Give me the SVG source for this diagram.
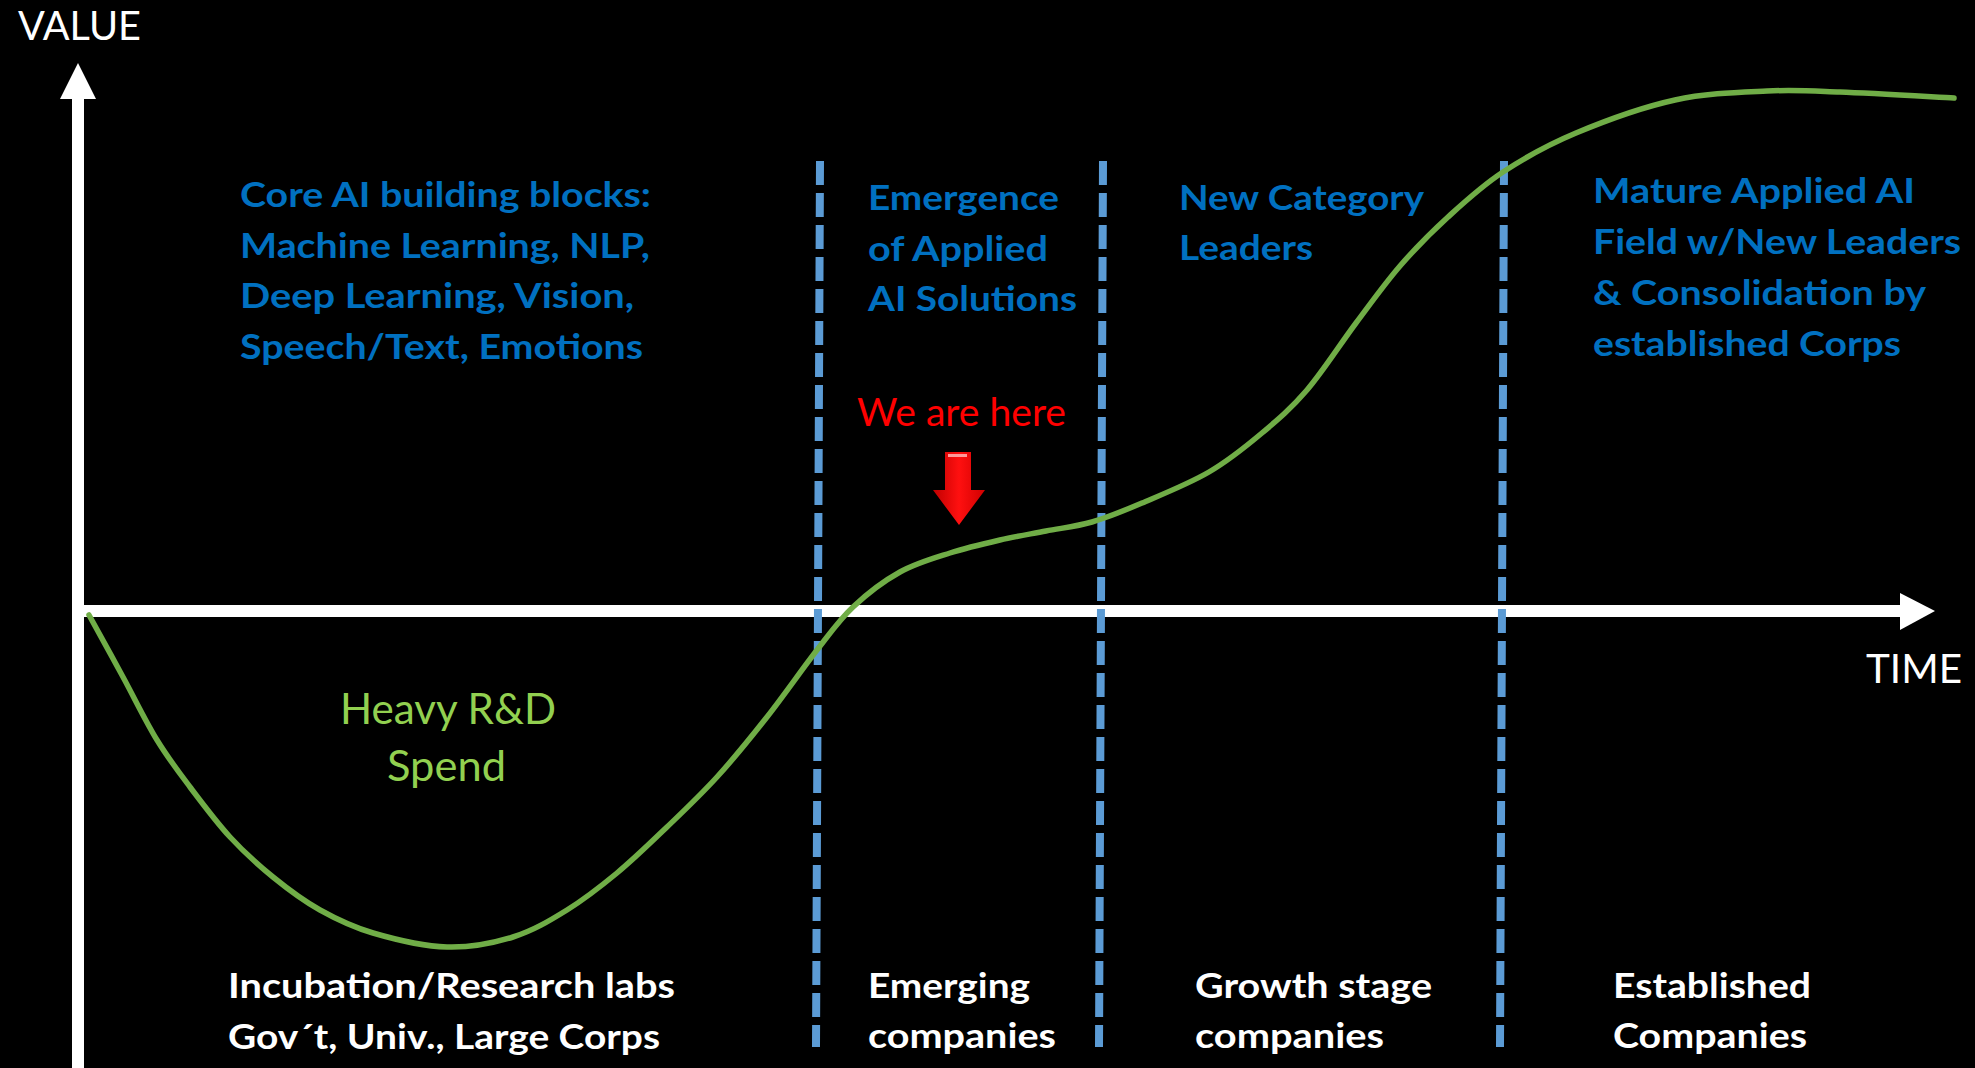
<svg xmlns="http://www.w3.org/2000/svg" width="1975" height="1068" viewBox="0 0 1975 1068">
  <style>
    text { font-family: Lato, "Open Sans", "Liberation Sans", sans-serif; }
    .blue { fill: #0070C0; font-weight: 700; font-size: 35px; }
    .white { fill: #FFFFFF; font-weight: 700; font-size: 35px; }
    .axislabel { fill: #FFFFFF; font-weight: 400; font-size: 40px; }
    .green { fill: #92D050; font-weight: 400; font-size: 43px; }
    .red { fill: #FF0000; font-weight: 400; font-size: 38px; }
    .divider { stroke: #5B9BD5; stroke-width: 8; stroke-dasharray: 24 8; fill: none; }
    .curve { stroke: #70AD47; stroke-width: 5.5; fill: none; stroke-linecap: round; stroke-linejoin: round; }
    .axis { fill: #FFFFFF; }
  </style>
  <defs>
    <linearGradient id="redgrad" x1="0" y1="0" x2="1" y2="0">
      <stop offset="0" stop-color="#C00000"/>
      <stop offset="0.5" stop-color="#FF1010"/>
      <stop offset="1" stop-color="#D00000"/>
    </linearGradient>
  </defs>
  <rect x="0" y="0" width="1975" height="1068" fill="#000000"/>

  <g id="axes">
    <rect class="axis" x="72" y="97" width="12" height="971"/>
    <polygon class="axis" points="60,99 78,63 96,99"/>
    <rect class="axis" x="78" y="605" width="1824" height="12"/>
    <polygon class="axis" points="1900,593 1935,611 1900,630"/>
    <text class="axislabel" x="18" y="40" textLength="123" lengthAdjust="spacingAndGlyphs">VALUE</text>
    <text class="axislabel" x="1866" y="683" textLength="96" lengthAdjust="spacingAndGlyphs">TIME</text>
  </g>

  <g id="connectors">
    <line class="divider" x1="820" y1="161" x2="816" y2="1047"/>
    <line class="divider" x1="1103" y1="161" x2="1099" y2="1047"/>
    <line class="divider" x1="1504" y1="161" x2="1500" y2="1047"/>
    <path class="curve" d="M89,615 C94.7,625.3 111.7,656.2 123,677 C134.3,697.8 145.8,721.7 157,740 C168.2,758.3 177.8,770.8 190,787 C202.2,803.2 216.2,822 230,837 C243.8,852 258,864.8 273,877 C288,889.2 303.3,900.7 320,910 C336.7,919.3 351.8,926.8 373,933 C394.2,939.2 423.7,946.3 447,947 C470.3,947.7 493,943.2 513,937 C533,930.8 549.7,920.7 567,910 C584.3,899.3 600.3,886.8 617,873 C633.7,859.2 650.3,843 667,827 C683.7,811 700.3,795.3 717,777 C733.7,758.7 750.3,738.2 767,717 C783.7,695.8 802.7,668.3 817,650 C831.3,631.7 839.2,620 853,607 C866.8,594 883.8,581 900,572 C916.2,563 933.3,558.3 950,553 C966.7,547.7 984,543.7 1000,540 C1016,536.3 1030.7,534 1046,531 C1061.3,528 1076,526.7 1092,522 C1108,517.3 1122.5,511.3 1142,503 C1161.5,494.7 1189,483.7 1209,472 C1229,460.3 1245.7,446.7 1262,433 C1278.3,419.3 1291.3,408.3 1307,390 C1322.7,371.7 1340.5,343.7 1356,323 C1371.5,302.3 1384.7,283.7 1400,266 C1415.3,248.3 1430.8,232.7 1448,217 C1465.2,201.3 1481.7,186 1503,172 C1524.3,158 1547.3,145 1576,133 C1604.7,121 1643.2,107 1675,100 C1706.8,93 1739.5,92.3 1767,91 C1794.5,89.7 1808.8,90.8 1840,92 C1871.2,93.2 1935,97 1954,98"/>
  </g>

  <g id="core-blocks">
    <text class="blue" x="240" y="207" textLength="411" lengthAdjust="spacingAndGlyphs">Core AI building blocks:</text>
    <text class="blue" x="240" y="258" textLength="410" lengthAdjust="spacingAndGlyphs">Machine Learning, NLP,</text>
    <text class="blue" x="240" y="308" textLength="394" lengthAdjust="spacingAndGlyphs">Deep Learning, Vision,</text>
    <text class="blue" x="240" y="359" textLength="403" lengthAdjust="spacingAndGlyphs">Speech/Text, Emotions</text>
  </g>

  <g id="emergence">
    <text class="blue" x="868" y="210" textLength="191" lengthAdjust="spacingAndGlyphs">Emergence</text>
    <text class="blue" x="868" y="261" textLength="180" lengthAdjust="spacingAndGlyphs">of Applied</text>
    <text class="blue" x="868" y="311" textLength="209" lengthAdjust="spacingAndGlyphs">AI Solutions</text>
  </g>

  <g id="new-category">
    <text class="blue" x="1179" y="210" textLength="245" lengthAdjust="spacingAndGlyphs">New Category</text>
    <text class="blue" x="1179" y="260" textLength="134" lengthAdjust="spacingAndGlyphs">Leaders</text>
  </g>

  <g id="mature">
    <text class="blue" x="1593" y="203" textLength="322" lengthAdjust="spacingAndGlyphs">Mature Applied AI</text>
    <text class="blue" x="1593" y="254" textLength="368" lengthAdjust="spacingAndGlyphs">Field w/New Leaders</text>
    <text class="blue" x="1593" y="305" textLength="333" lengthAdjust="spacingAndGlyphs">&amp; Consolidation by</text>
    <text class="blue" x="1593" y="356" textLength="308" lengthAdjust="spacingAndGlyphs">established Corps</text>
  </g>

  <g id="we-are-here">
    <text class="red" x="857" y="426" textLength="209" lengthAdjust="spacingAndGlyphs">We are here</text>
    <path d="M945,452 H971 V490 H985 L959,525 L933,490 H945 Z" fill="url(#redgrad)"/>
    <line x1="948" y1="455.5" x2="967" y2="455.5" stroke="#FF9A9A" stroke-width="3"/>
  </g>

  <g id="heavy-rd">
    <text class="green" x="340" y="724" textLength="216" lengthAdjust="spacingAndGlyphs">Heavy R&amp;D</text>
    <text class="green" x="387" y="781" textLength="119" lengthAdjust="spacingAndGlyphs">Spend</text>
  </g>

  <g id="stage-incubation">
    <text class="white" x="228" y="998" textLength="447" lengthAdjust="spacingAndGlyphs">Incubation/Research labs</text>
    <text class="white" x="228" y="1049" textLength="432" lengthAdjust="spacingAndGlyphs">Gov´t, Univ., Large Corps</text>
  </g>

  <g id="stage-emerging">
    <text class="white" x="868" y="998" textLength="162" lengthAdjust="spacingAndGlyphs">Emerging</text>
    <text class="white" x="868" y="1048" textLength="188" lengthAdjust="spacingAndGlyphs">companies</text>
  </g>

  <g id="stage-growth">
    <text class="white" x="1195" y="998" textLength="237" lengthAdjust="spacingAndGlyphs">Growth stage</text>
    <text class="white" x="1195" y="1048" textLength="189" lengthAdjust="spacingAndGlyphs">companies</text>
  </g>

  <g id="stage-established">
    <text class="white" x="1613" y="998" textLength="198" lengthAdjust="spacingAndGlyphs">Established</text>
    <text class="white" x="1613" y="1048" textLength="194" lengthAdjust="spacingAndGlyphs">Companies</text>
  </g>
</svg>
